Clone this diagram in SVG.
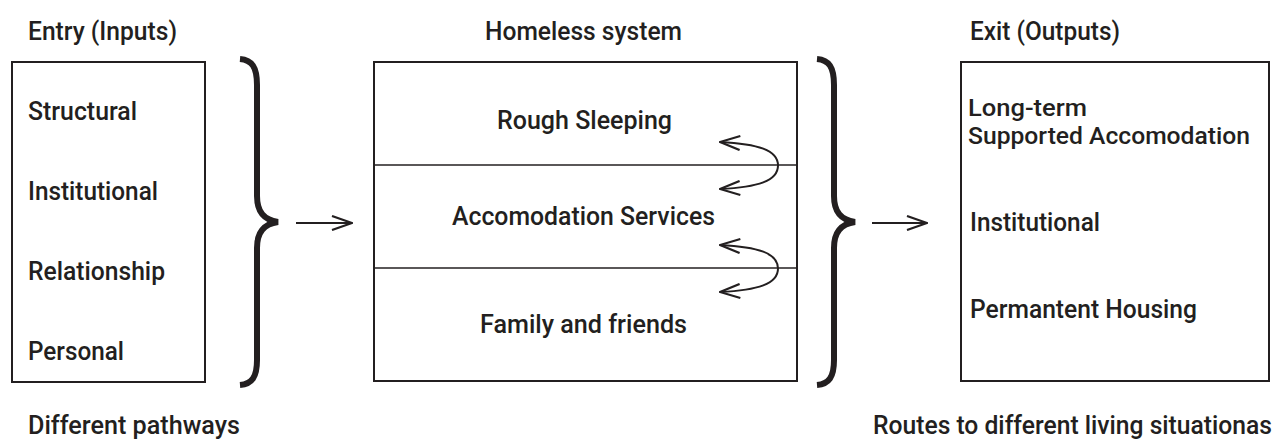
<svg xmlns="http://www.w3.org/2000/svg" width="1279" height="443" viewBox="0 0 1279 443">
<defs>
<style>
.t{font-family:Roboto,"Liberation Sans",sans-serif;font-size:25px;font-weight:500;fill:#231f20;}
.s{font-size:24px;}
.box{fill:#fff;stroke:#231f20;stroke-width:2;}
.sep{stroke:#231f20;stroke-width:1.3;}
.brace{fill:none;stroke:#231f20;stroke-width:6;stroke-linecap:butt;}
.arr{fill:none;stroke:#231f20;stroke-width:2;}
</style>
<marker id="ah" viewBox="0 0 22 16" refX="21" refY="8" markerWidth="22" markerHeight="16" markerUnits="userSpaceOnUse" orient="auto-start-reverse">
<path d="M1,1 L21,8 L1,15" fill="none" stroke="#231f20" stroke-width="2.2"/>
</marker>
</defs>
<rect width="1279" height="443" fill="#fff"/>

<g id="headers">
<text class="t" x="28" y="40" textLength="149" lengthAdjust="spacingAndGlyphs">Entry (Inputs)</text>
<text class="t" x="485" y="40" textLength="197" lengthAdjust="spacingAndGlyphs">Homeless system</text>
<text class="t" x="970" y="40" textLength="150" lengthAdjust="spacingAndGlyphs">Exit (Outputs)</text>
</g>

<g id="entry">
<rect class="box" x="12" y="62" width="193" height="320"/>
<text class="t" x="28" y="120" textLength="109" lengthAdjust="spacingAndGlyphs">Structural</text>
<text class="t" x="28" y="200" textLength="130" lengthAdjust="spacingAndGlyphs">Institutional</text>
<text class="t" x="28" y="280" textLength="137" lengthAdjust="spacingAndGlyphs">Relationship</text>
<text class="t" x="28" y="360" textLength="96" lengthAdjust="spacingAndGlyphs">Personal</text>
</g>

<g id="system">
<rect class="box" x="374" y="62" width="423" height="319"/>
<line class="sep" x1="374" y1="165" x2="797" y2="165"/>
<line class="sep" x1="374" y1="268" x2="797" y2="268"/>
<text class="t" x="497" y="129" textLength="175" lengthAdjust="spacingAndGlyphs">Rough Sleeping</text>
<text class="t" x="452" y="225" textLength="263" lengthAdjust="spacingAndGlyphs">Accomodation Services</text>
<text class="t" x="480" y="333" textLength="207" lengthAdjust="spacingAndGlyphs">Family and friends</text>
</g>

<g id="exit">
<rect class="box" x="961" y="62" width="308" height="319"/>
<text class="t s" x="968" y="116" textLength="119" lengthAdjust="spacingAndGlyphs">Long-term</text>
<text class="t s" x="968" y="144" textLength="282" lengthAdjust="spacingAndGlyphs">Supported Accomodation</text>
<text class="t" x="970" y="231" textLength="130" lengthAdjust="spacingAndGlyphs">Institutional</text>
<text class="t" x="970" y="318" textLength="227" lengthAdjust="spacingAndGlyphs">Permantent Housing</text>
</g>

<g id="footers">
<text class="t" x="28" y="434" textLength="212" lengthAdjust="spacingAndGlyphs">Different pathways</text>
<text class="t" x="873" y="434" textLength="399" lengthAdjust="spacingAndGlyphs">Routes to different living situationas</text>
</g>

<g id="connectors">
<path class="brace" d="M240,59 C252,60 257,67 257,85 L257,196 C257,212 264,220 278,222 C264,224 257,232 257,248 L257,360 C257,377 252,384 240,385"/>
<path class="brace" d="M817,59 C829,60 834,67 834,85 L834,196 C834,212 841,220 855,222 C841,224 834,232 834,248 L834,360 C834,377 829,384 817,385"/>
<line class="arr" x1="296" y1="223" x2="352" y2="223" marker-end="url(#ah)"/>
<line class="arr" x1="872" y1="223" x2="927" y2="223" marker-end="url(#ah)"/>
<path class="arr" d="M720,142 C758,144 778,150 778,165.5 C778,181 758,187 720,189" marker-start="url(#ah)" marker-end="url(#ah)"/>
<path class="arr" d="M720,245 C758,247 778,253 778,268.5 C778,284 758,290 720,292" marker-start="url(#ah)" marker-end="url(#ah)"/>
</g>
</svg>
